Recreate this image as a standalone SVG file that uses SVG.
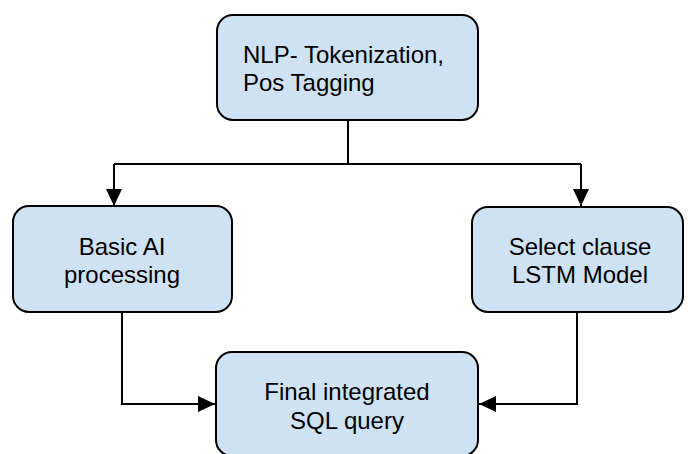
<svg xmlns="http://www.w3.org/2000/svg" width="688" height="454" viewBox="0 0 688 454">
<style>
.box{fill:#cfe2f3;stroke:#000;stroke-width:2}
.lbl{font-family:"Liberation Sans",Arial,sans-serif;font-size:24px;fill:#000}
.c{text-anchor:middle}
.conn{fill:none;stroke:#000;stroke-width:2}
</style>
<defs>
<marker id="arr" viewBox="0 0 17 16" refX="17" refY="8" markerWidth="17" markerHeight="16" markerUnits="userSpaceOnUse" orient="auto">
<path d="M0,0 L17,8 L0,16 Z" fill="#000"/>
</marker>
</defs>
<rect width="688" height="454" fill="#fff"/>
<g id="connectors">
<path class="conn" d="M348,121 V164"/>
<path class="conn" d="M114,164 H581"/>
<path class="conn" d="M114,164 V206" marker-end="url(#arr)"/>
<path class="conn" d="M581,164 V206" marker-end="url(#arr)"/>
<path class="conn" d="M122,313 V404 H215" marker-end="url(#arr)"/>
<path class="conn" d="M577,313 V404 H479" marker-end="url(#arr)"/>
</g>
<g id="node-nlp">
<rect class="box" x="217" y="15" width="261" height="105" rx="16"/>
<text class="lbl" x="243" y="63">NLP- Tokenization,</text>
<text class="lbl" x="243" y="91">Pos Tagging</text>
</g>
<g id="node-basic">
<rect class="box" x="13" y="206" width="219" height="106" rx="16"/>
<text class="lbl c" x="122" y="255">Basic AI</text>
<text class="lbl c" x="122" y="283">processing</text>
</g>
<g id="node-select">
<rect class="box" x="472" y="207" width="211" height="105" rx="16"/>
<text class="lbl c" x="580" y="255">Select clause</text>
<text class="lbl c" x="580" y="283">LSTM Model</text>
</g>
<g id="node-final">
<rect class="box" x="216" y="352" width="262" height="104" rx="16"/>
<text class="lbl c" x="347" y="400">Final integrated</text>
<text class="lbl c" x="347" y="429">SQL query</text>
</g>
</svg>
